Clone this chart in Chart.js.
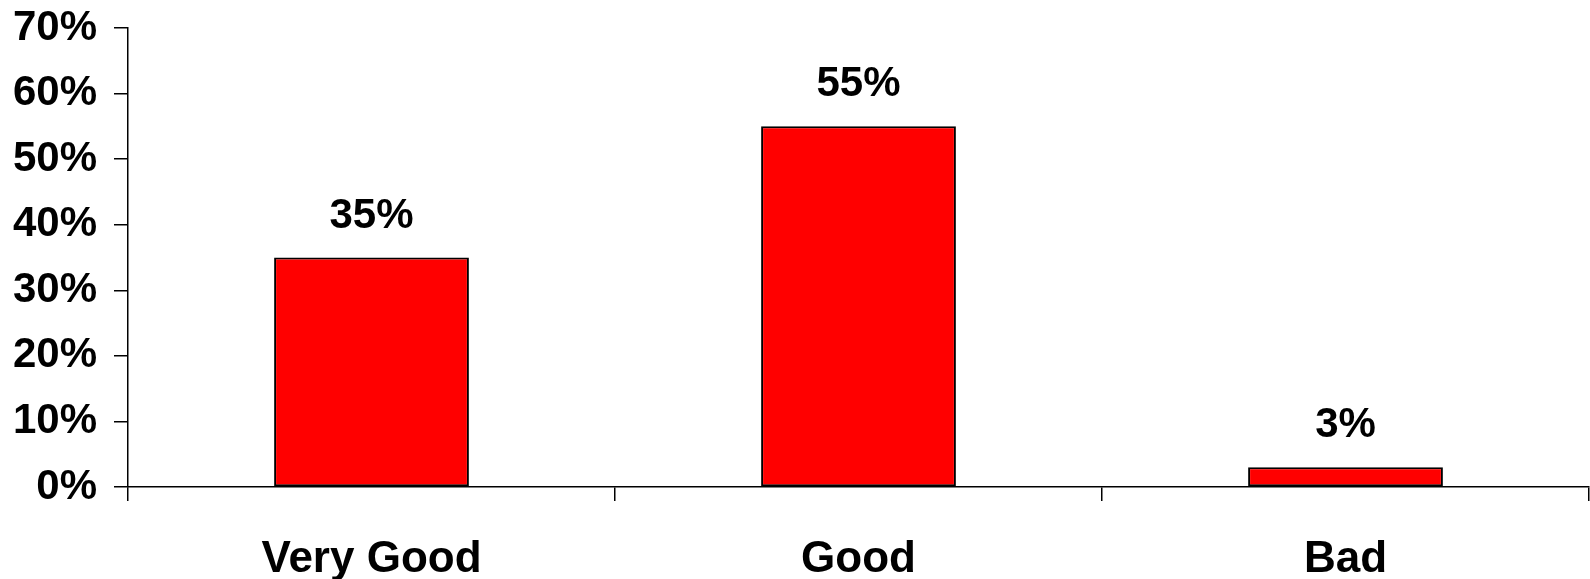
<!DOCTYPE html>
<html>
<head>
<meta charset="utf-8">
<title>Rating</title>
<script src="https://cdn.jsdelivr.net/npm/chart.js@4/dist/chart.umd.min.js"></script>
<style>
  html, body { margin: 0; padding: 0; background: #fff; }
  #wrap { width: 1590px; height: 579px; position: relative; }
</style>
</head>
<body>
<div id="wrap"><canvas id="ratingChart"></canvas></div>
<script>
const categories = ["Very Good", "Good", "Bad"];
const shares = [35, 55, 3];
const yMin = 0;
const yMax = 70;
const yStep = 10;

const FONT = "'Liberation Sans', Arial, sans-serif";

// percent labels above every bar
const valueLabels = {
  id: "valueLabels",
  afterDatasetsDraw(chart) {
    const ctx = chart.ctx;
    const meta = chart.getDatasetMeta(0);
    ctx.save();
    ctx.font = "bold 42px " + FONT;
    ctx.fillStyle = "#000";
    ctx.textAlign = "center";
    ctx.textBaseline = "alphabetic";
    meta.data.forEach((bar, i) => {
      ctx.fillText(shares[i] + "%", bar.x, bar.y - 30);
    });
    ctx.restore();
  }
};

const ctx = document.getElementById("ratingChart").getContext("2d");
new Chart(ctx, {
  type: "bar",
  data: {
    labels: categories,
    datasets: [
      {
        data: shares,
        backgroundColor: "#ff0000",
        borderColor: "#000000",
        borderWidth: 2,
        borderSkipped: false,
        categoryPercentage: 1,
        barPercentage: 0.4,
      },
    ],
  },
  options: {
    responsive: true,
    maintainAspectRatio: false,
    animation: false,
    layout: { padding: { top: 28, right: 1, left: 0, bottom: 0 } },
    plugins: {
      legend: { display: false },
      tooltip: { enabled: false },
    },
    scales: {
      x: {
        offset: true,
        grid: {
          offset: true,
          drawOnChartArea: false,
          drawTicks: true,
          tickLength: 14,
          color: "#000",
          lineWidth: 1.5,
        },
        border: { display: true, color: "#000", width: 1.5 },
        ticks: {
          color: "#000",
          font: { family: FONT, size: 44, weight: "bold" },
          padding: 32,
          maxRotation: 0,
        },
        afterFit(scale) {
          scale.height = 92;
        },
      },
      y: {
        min: yMin,
        max: yMax,
        grid: {
          drawOnChartArea: false,
          drawTicks: true,
          tickLength: 14,
          color: "#000",
          lineWidth: 1.5,
        },
        border: { display: true, color: "#000", width: 1.5 },
        ticks: {
          stepSize: yStep,
          color: "#000",
          padding: 17,
          font: { family: FONT, size: 42, weight: "bold" },
          callback: (v) => v + "%",
        },
        afterFit(scale) {
          // top label sits in the layout padding instead
          scale.width = 128;
          scale.paddingTop = 0;
          scale.paddingBottom = 0;
        },
      },
    },
  },
  plugins: [valueLabels],
});
</script>
</body>
</html>
